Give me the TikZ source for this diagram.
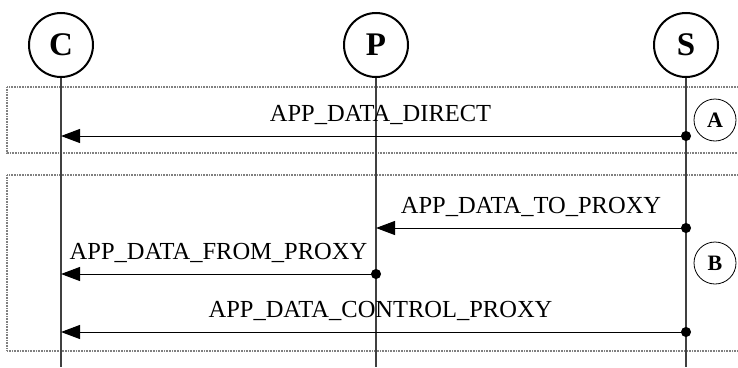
\documentclass[tikz,border=0pt]{standalone}
\usepackage{fontspec}
\setmainfont{Liberation Serif}
\usetikzlibrary{positioning, arrows.meta}

\begin{document}
\begin{tikzpicture}[x=1pt,y=-1pt]
	\tikzstyle{actor}=[circle,draw=black,line width=2pt,minimum size=64pt,inner sep=0pt,font=\fontsize{33}{33}\selectfont\bfseries]
	\tikzstyle{phase}=[circle,draw=black,line width=0.8pt,minimum size=42pt,inner sep=0pt,font=\fontsize{22}{22}\selectfont\bfseries]
	\tikzstyle{group}=[draw=gray,line width=1.3pt,dash pattern=on 1pt off 0.6pt]
	\tikzstyle{life}=[draw=black!75,line width=1.2pt]
	\tikzstyle{msg}=[draw=black,line width=1pt,shorten <=-5pt,{Circle[length=10pt]}-{Triangle[length=19pt,width=14pt]}]
	\tikzstyle{lbl}=[anchor=base,yshift=15pt,font=\fontsize{24.5}{24.5}\selectfont]
	\useasboundingbox (0,0) rectangle (738,367);
	% groups
	\draw[group] (738,87) -| (7,153) -- (738,153);
	\draw[group] (738,175) -| (7,351) -- (738,351);
	% actors and lifelines
	\node[actor](c) at (61,45) {C};
	\node[actor](p) at (376,45) {P};
	\node[actor](s) at (686,45) {S};
	\coordinate (cend) at (61,367);
	\coordinate (pend) at (376,367);
	\coordinate (send) at (686,367);
	\draw[life] (c) -- (cend);
	\draw[life] (p) -- (pend);
	\draw[life] (s) -- (send);
	% phase markers
	\node[phase](a) at (715,120) {A};
	\node[phase](b) at (715,263) {B};
	% message points
	\coordinate (s1) at (686,136);
	\coordinate (c1) at (61,136);
	\coordinate (s2) at (686,228);
	\coordinate (p2) at (376,228);
	\coordinate (p3) at (376,274);
	\coordinate (c3) at (61,274);
	\coordinate (s4) at (686,332);
	\coordinate (c4) at (61,332);
	\draw[msg] (s1) -- node[lbl,xshift=7pt] {APP\_DATA\_DIRECT} (c1);
	\draw[msg] (s2) -- node[lbl] {APP\_DATA\_TO\_PROXY} (p2);
	\draw[msg] (p3) -- node[lbl] {APP\_DATA\_FROM\_PROXY} (c3);
	\draw[msg] (s4) -- node[lbl,xshift=7pt] {APP\_DATA\_CONTROL\_PROXY} (c4);
\end{tikzpicture}
\end{document}
